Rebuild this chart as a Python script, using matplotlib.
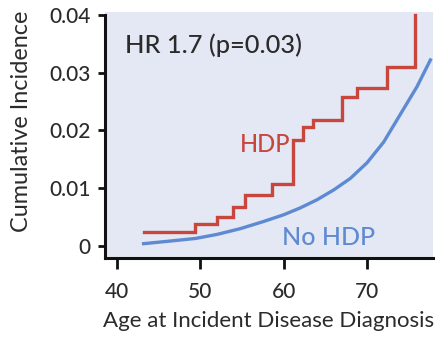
import matplotlib
matplotlib.use("Agg")
import matplotlib.pyplot as plt

plt.rcParams['font.family'] = ['Lato', 'DejaVu Sans']
plt.rcParams['font.weight'] = 'medium'

# HDP step curve (cumulative incidence)
hdp_age = [43.2, 49.4, 52.0, 53.9, 55.4, 58.6, 61.1, 62.3, 63.5, 67.0, 68.8, 72.4, 75.8]
hdp_inc = [0.0024, 0.0038, 0.0050, 0.0068, 0.0088, 0.0107, 0.0184, 0.0206, 0.0218, 0.0258, 0.0274, 0.0310, 0.0400]

# No HDP smooth curve
nohdp_age = [43.2, 46.0, 49.4, 52.0, 54.8, 57.5, 60.0, 62.0, 64.0, 66.0, 68.0, 70.0, 72.0, 74.0, 76.0, 77.6]
nohdp_inc = [0.0004, 0.0008, 0.0013, 0.0020, 0.0030, 0.0042, 0.0054, 0.0066, 0.0080, 0.0097, 0.0117, 0.0144, 0.0180, 0.0228, 0.0276, 0.0322]

yticks = [0, 0.01, 0.02, 0.03, 0.04]
ytick_labels = ['0', '0.01', '0.02', '0.03', '0.04']
xticks = [40, 50, 60, 70]

red = '#C8463B'
blue = '#5E8AD2'
text_col = '#2b2b2b'

fig = plt.figure(figsize=(4.37, 3.37), dpi=100)
ax = fig.add_axes([0.240, 0.2344, 0.751, 0.7300])
ax.set_facecolor('#E3E8F4')

ax.step(hdp_age, hdp_inc, where='post', color=red, lw=2.4, solid_joinstyle='miter')
ax.plot(nohdp_age, nohdp_inc, color=blue, lw=2.4, solid_joinstyle='round')

ax.set_xlim(38.56, 77.92)
ax.set_ylim(-0.00208, 0.0405)
ax.set_xticks(xticks)
ax.set_xticklabels([str(v) for v in xticks])
ax.set_yticks(yticks)
ax.set_yticklabels(ytick_labels)

for s in ['top', 'right']:
    ax.spines[s].set_visible(False)
for s in ['left', 'bottom']:
    ax.spines[s].set_linewidth(2.2)
    ax.spines[s].set_color('#111111')
ax.spines['left'].set_bounds(-0.00208, 0.0400)

ax.tick_params(axis='y', direction='out', length=5, width=2, colors='#111111',
               labelsize=15, labelcolor=text_col, pad=5)
ax.tick_params(axis='x', direction='out', length=8, width=2, colors='#111111',
               labelsize=15, labelcolor=text_col, pad=9)

ax.set_ylabel('Cumulative Incidence', fontsize=16.8, color=text_col)
ax.set_xlabel('Age at Incident Disease Diagnosis', fontsize=16, color=text_col, labelpad=7)
ax.yaxis.set_label_coords(-0.222, 0.555)

ax.text(41.0, 0.0348, 'HR 1.7 (p=0.03)', fontsize=18.3, color=text_col, va='center', ha='left')
ax.text(54.8, 0.0175, 'HDP', fontsize=17, color=red, va='center', ha='left')
ax.text(59.8, 0.0014, 'No HDP', fontsize=18, color=blue, va='center', ha='left')

fig.savefig('out.png', dpi=100)
